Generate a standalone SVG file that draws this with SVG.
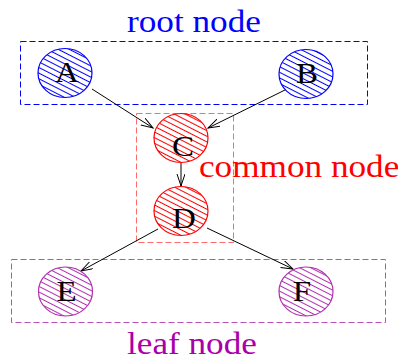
<svg xmlns="http://www.w3.org/2000/svg" width="398" height="358" viewBox="0 0 398 358">
<style>
  .lbl { font-family: "Liberation Serif", "Times New Roman", serif; font-size: 30px; fill: #000; text-anchor: middle; }
  .title { font-family: "Liberation Serif", "Times New Roman", serif; font-size: 32px; }
  .box { fill: none; stroke-width: 1; stroke-dasharray: 6 3; }
  .edge { fill: none; stroke: #000; stroke-width: 1; marker-end: url(#arr); }
  .node { stroke-width: 1.2; }
</style>
<defs>
  <pattern id="hBlue" patternUnits="userSpaceOnUse" width="10" height="5" patternTransform="rotate(27)">
    <rect width="10" height="5" fill="#fff"/>
    <line x1="0" y1="2.5" x2="10" y2="2.5" stroke="#0000ff" stroke-width="1"/>
  </pattern>
  <pattern id="hRed" patternUnits="userSpaceOnUse" width="10" height="5" patternTransform="rotate(27)">
    <rect width="10" height="5" fill="#fff"/>
    <line x1="0" y1="2.5" x2="10" y2="2.5" stroke="#ff0000" stroke-width="1"/>
  </pattern>
  <pattern id="hPur" patternUnits="userSpaceOnUse" width="10" height="5" patternTransform="rotate(27)">
    <rect width="10" height="5" fill="#fff"/>
    <line x1="0" y1="2.5" x2="10" y2="2.5" stroke="#b030b0" stroke-width="1"/>
  </pattern>
  <marker id="arr" markerUnits="userSpaceOnUse" markerWidth="14" markerHeight="10" refX="12" refY="4" orient="auto">
    <path d="M0,0 L12,4 L0,8" fill="none" stroke="#000" stroke-width="1"/>
  </marker>
</defs>

<g id="cluster-root">
  <rect class="box" x="20.5" y="41.5" width="347" height="63" stroke="#0000ff"/>
  <text class="title" transform="translate(127,32) scale(1.1,1)" fill="#0000ff">root node</text>
</g>
<g id="cluster-common">
  <rect class="box" x="136.5" y="113.5" width="97" height="129" stroke="#ff6a6a"/>
  <text class="title" transform="translate(199,177) scale(1.1,1)" fill="#ff0000">common node</text>
</g>
<g id="cluster-leaf">
  <rect class="box" x="11.5" y="259.5" width="374" height="63" stroke="#b850b8"/>
  <text class="title" transform="translate(127,354) scale(1.1,1)" fill="#aa00aa">leaf node</text>
</g>

<g id="edges">
  <line class="edge" x1="92" y1="89" x2="153" y2="128"/>
  <line class="edge" x1="287" y1="89" x2="208" y2="128"/>
  <line class="edge" x1="181" y1="163" x2="181" y2="186"/>
  <line class="edge" x1="158" y1="229" x2="81" y2="271"/>
  <line class="edge" x1="207" y1="228" x2="293" y2="269"/>
</g>

<g id="node-A">
  <ellipse class="node" cx="65" cy="73" rx="27" ry="24.5" fill="url(#hBlue)" stroke="#0000ff"/>
  <text class="lbl" transform="translate(67,82) scale(1.1,1)">A</text>
</g>
<g id="node-B">
  <ellipse class="node" cx="306" cy="74" rx="27" ry="24.5" fill="url(#hBlue)" stroke="#0000ff"/>
  <text class="lbl" transform="translate(307,83) scale(1.1,1)">B</text>
</g>
<g id="node-C">
  <ellipse class="node" cx="181" cy="138" rx="27" ry="24.5" fill="url(#hRed)" stroke="#ff0000"/>
  <text class="lbl" transform="translate(183,156) scale(1.1,1)">C</text>
</g>
<g id="node-D">
  <ellipse class="node" cx="181" cy="211" rx="27" ry="24.5" fill="url(#hRed)" stroke="#ff0000"/>
  <text class="lbl" transform="translate(184,228) scale(1.1,1)">D</text>
</g>
<g id="node-E">
  <ellipse class="node" cx="65.5" cy="291.5" rx="27" ry="24.5" fill="url(#hPur)" stroke="#b030b0"/>
  <text class="lbl" transform="translate(66.5,301) scale(1.1,1)">E</text>
</g>
<g id="node-F">
  <ellipse class="node" cx="306" cy="291.5" rx="27" ry="24.5" fill="url(#hPur)" stroke="#b030b0"/>
  <text class="lbl" transform="translate(302,301) scale(1.1,1)">F</text>
</g>
</svg>
